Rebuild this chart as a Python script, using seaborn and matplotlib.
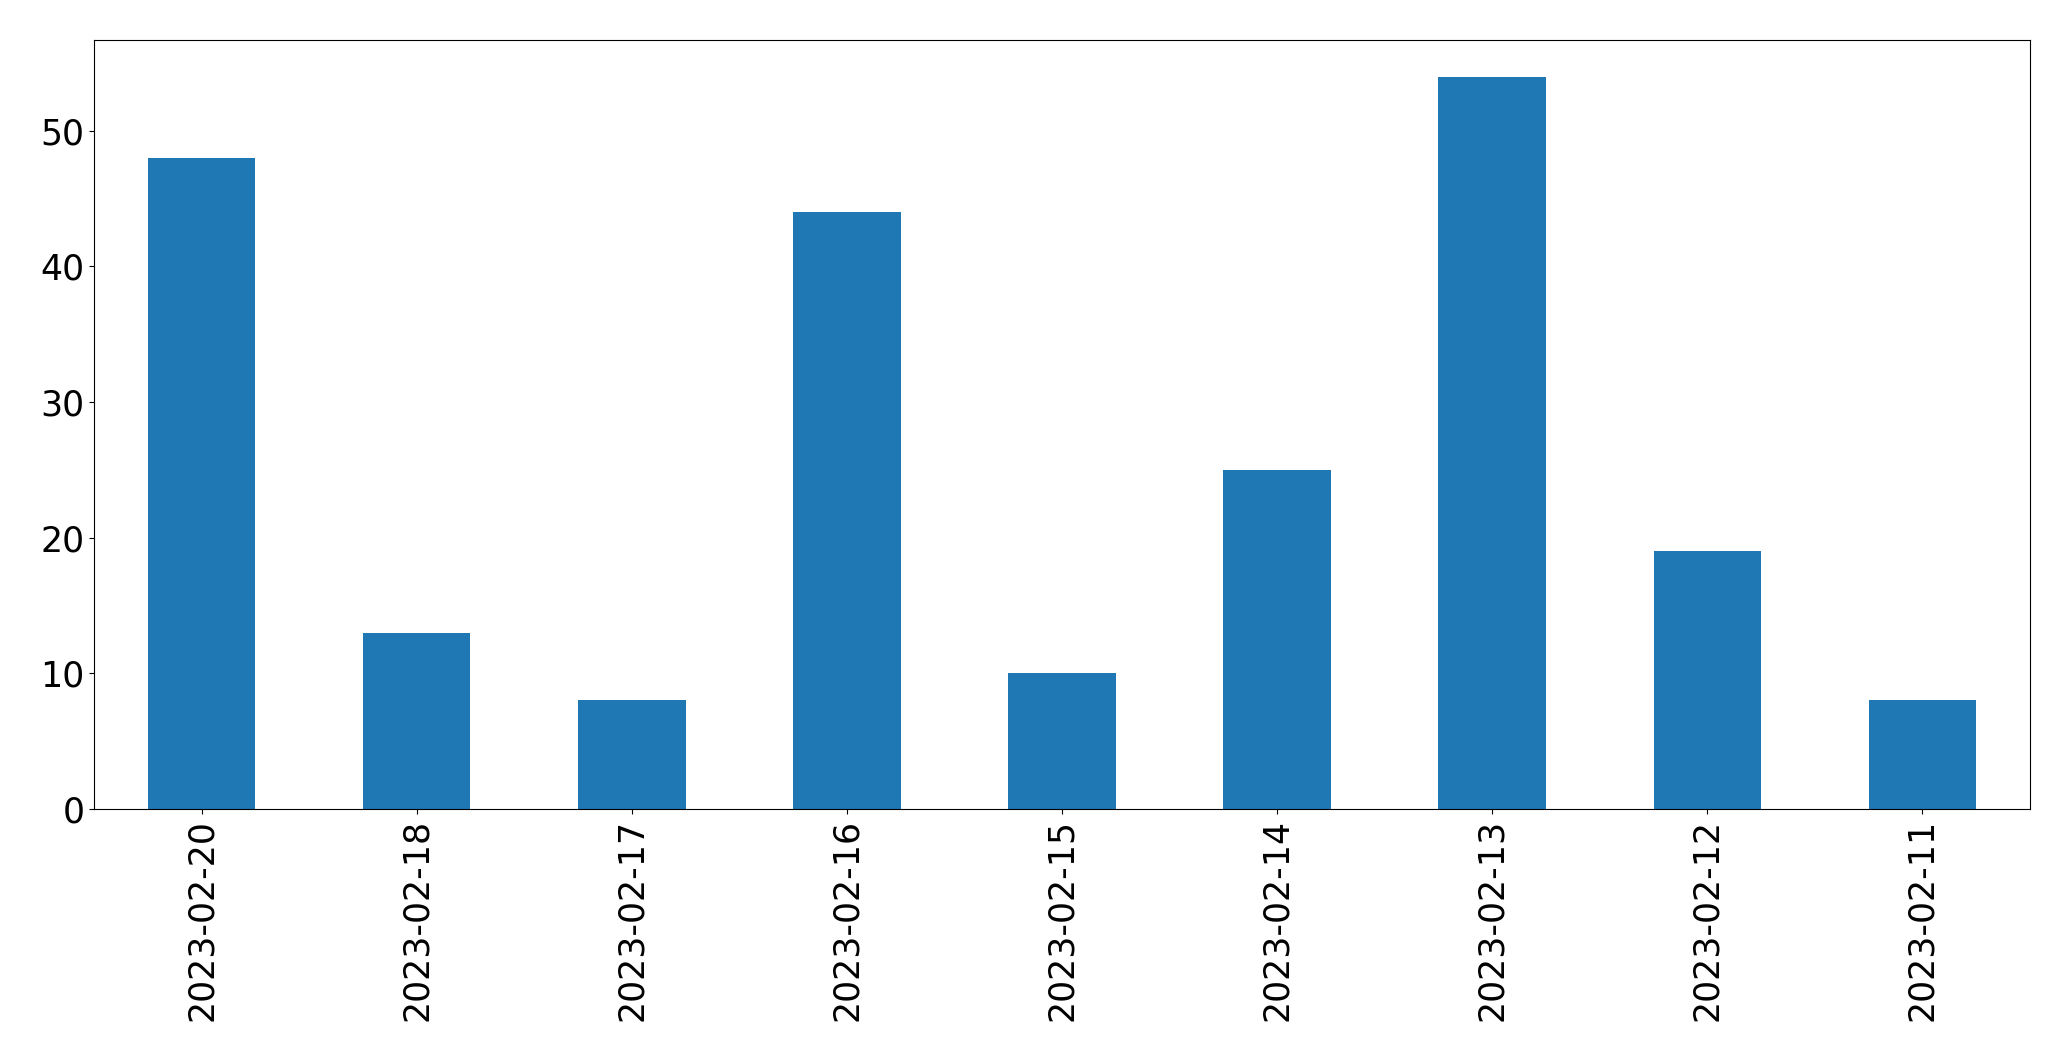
import numpy as np
import pandas as pd
import matplotlib
matplotlib.use('Agg')
import matplotlib.pyplot as plt
import seaborn as sns

# Daily counts, in the order shown on the chart.
dates = ['2023-02-20', '2023-02-18', '2023-02-17', '2023-02-16', '2023-02-15',
         '2023-02-14', '2023-02-13', '2023-02-12', '2023-02-11']
counts = [48, 13, 8, 44, 10, 25, 54, 19, 8]

df = pd.DataFrame({'date': dates, 'count': counts})

fig = plt.figure(figsize=(20.71, 10.61), dpi=100)
ax = fig.add_axes([94 / 2071, 1 - 809 / 1061, (2030 - 94) / 2071, (809 - 40) / 1061])

sns.barplot(data=df, x='date', y='count', order=dates, color='#1f77b4',
            saturation=1, width=0.5, linewidth=0, ax=ax)

ax.set_xlim(-0.5, len(dates) - 0.5)
ax.set_ylim(0, max(counts) * 1.05)
ax.set_xlabel('')
ax.set_ylabel('')
ax.tick_params(axis='both', labelsize=25)
ax.tick_params(axis='x', labelrotation=90)

fig.savefig('out.png', dpi=100)
